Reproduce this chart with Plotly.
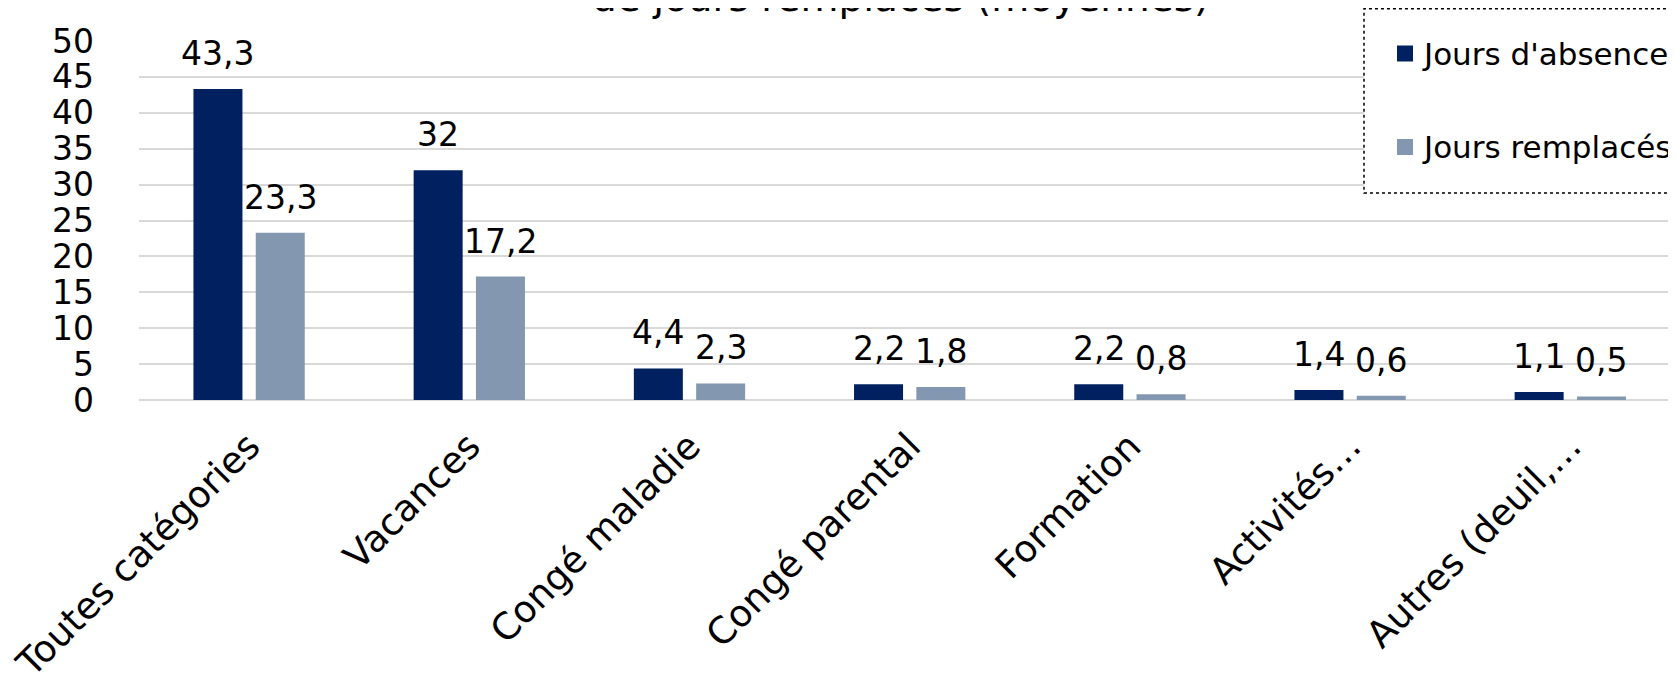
import plotly.graph_objects as go

# ---- data ----
categories = ["Toutes catégories", "Vacances", "Congé maladie", "Congé parental",
              "Formation", "Activités…", "Autres (deuil,…"]
jours_absence = [43.3, 32, 4.4, 2.2, 2.2, 1.4, 1.1]
jours_remplaces = [23.3, 17.2, 2.3, 1.8, 0.8, 0.6, 0.5]
series_names = ["Jours d'absence", "Jours remplacés"]
y_tick_values = [0, 5, 10, 15, 20, 25, 30, 35, 40, 45, 50]
title_text = "de jours remplacés (moyennes)"

# ---- style ----
FONT = "DejaVu Sans"
DARK = "#002060"
LIGHT = "#8497B0"
GRID = "#D9D9D9"
# the page body has an 8px margin, so the figure is a little smaller than the window
W, H = 1668, 665
ML, MR, MT, MB = 131, 0, 33, 273
ph = H - MT - MB
pw = W - ML - MR
CAT_PX = 220.2
BARGAP, GROUPGAP = 0.434, 0.2135
SLOT = CAT_PX * (1 - BARGAP) / 2


def fmt(v):
    return f"{v:g}".replace(".", ",")


def py(ypx):
    """figure pixel row -> paper fraction"""
    return (H - MB - ypx) / ph


def px(xpx):
    return (xpx - ML) / pw


fig = go.Figure()
series = [jours_absence, jours_remplaces]
colors = [DARK, LIGHT]
for name, vals, col in zip(series_names, series, colors):
    fig.add_trace(go.Bar(x=categories, y=vals, name=name, marker_color=col,
                         marker_line_width=0, showlegend=False))

# data labels above bars
annotations = []
for vals, shift in zip(series, [-SLOT / 2, SLOT / 2]):
    for c, v in zip(categories, vals):
        annotations.append(dict(x=c, y=v, xref="x", yref="y", text=fmt(v),
                                showarrow=False, xshift=shift, yshift=14,
                                yanchor="bottom",
                                font=dict(family=FONT, size=33, color="#000")))

# title (only its last line is inside the frame)
annotations.append(dict(x=px(892), y=py(14), xref="paper", yref="paper",
                        text=title_text, showarrow=False, yanchor="bottom",
                        font=dict(family=FONT, size=39, color="#000")))

# legend box (dotted frame running off the right edge)
shapes = [dict(type="rect", xref="paper", yref="paper",
               x0=px(1356), x1=1.05, y0=py(185), y1=py(0.75),
               line=dict(color="#000", width=1.5, dash="dot"),
               fillcolor="white", layer="above")]
# legend keys and texts
legend_rows = [45.5, 139]
for name, col, yc in zip(series_names, colors, legend_rows):
    shapes.append(dict(type="rect", xref="paper", yref="paper",
                       x0=px(1389), x1=px(1405), y0=py(yc + 8), y1=py(yc - 8),
                       line=dict(width=0), fillcolor=col, layer="above"))
    annotations.append(dict(x=px(1412), y=py(yc), xref="paper", yref="paper",
                            text=name, showarrow=False, xanchor="left",
                            yanchor="middle",
                            font=dict(family=FONT, size=31, color="#000")))

fig.update_layout(
    width=W, height=H,
    margin=dict(l=ML, r=MR, t=MT, b=MB, pad=0, autoexpand=False),
    paper_bgcolor="white", plot_bgcolor="white",
    barmode="group", bargap=BARGAP, bargroupgap=GROUPGAP,
    font=dict(family=FONT, size=33, color="#000"),
    showlegend=False,
    annotations=annotations,
    shapes=shapes,
)
fig.update_xaxes(type="category", range=[-0.5, -0.5 + pw / CAT_PX],
                 automargin=False,
                 tickangle=-45, tickfont=dict(family=FONT, size=37, color="#000"),
                 ticklabelstandoff=16,
                 showgrid=False, showline=False, ticks="", zeroline=False)
fig.update_yaxes(range=[0, 50], tickvals=y_tick_values,
                 ticktext=[str(t) for t in y_tick_values],
                 automargin=False,
                 showgrid=True, gridcolor=GRID, gridwidth=2,
                 zeroline=True, zerolinecolor=GRID, zerolinewidth=2,
                 showline=False, ticks="", ticklabelstandoff=44,
                 tickfont=dict(family=FONT, size=33, color="#000"))

fig.write_html("out.html")
